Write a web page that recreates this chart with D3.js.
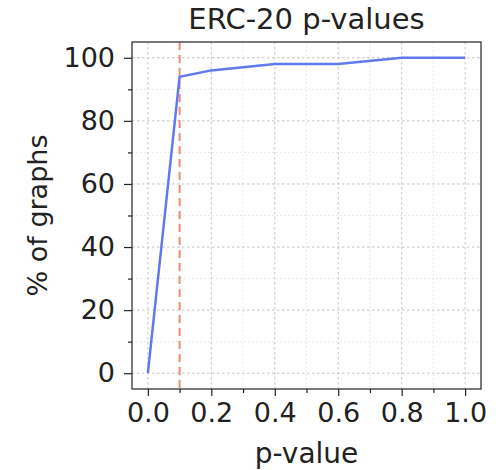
<!DOCTYPE html>
<html><head><meta charset="utf-8">
<script src="https://cdn.jsdelivr.net/npm/d3@7"></script>
<style>body{margin:0;background:#fff}svg{display:block}text{font-family:"DejaVu Sans",sans-serif;fill:#222}</style>
</head><body><svg id="c" width="504" height="470"></svg>
<script>
const pValues = [0.0, 0.1, 0.2, 0.4, 0.6, 0.8, 1.0];
const pctGraphs = [0, 94, 96, 98, 98, 100, 100];
const threshold = 0.1;
const xTicks = [0.0, 0.2, 0.4, 0.6, 0.8, 1.0];
const xMinor = [0.1, 0.3, 0.5, 0.7, 0.9];
const yTicks = [0, 20, 40, 60, 80, 100];
const yMinor = [10, 30, 50, 70, 90];
const title = "ERC-20 p-values";
const xLabel = "p-value";
const yLabel = "% of graphs";

const svg = d3.select("#c");
const L = 132, R = 481, T = 42, B = 389;
const x = d3.scaleLinear().domain([-0.05, 1.05]).range([L, R]);
const y = d3.scaleLinear().domain([-5, 105]).range([B, T]);

const g = svg.append("g");
// minor grid
g.selectAll(".mgx").data(xMinor).join("line")
  .attr("x1", d => x(d)).attr("x2", d => x(d)).attr("y1", T).attr("y2", B)
  .attr("stroke", "#e4e4e4").attr("stroke-width", 0.8).attr("stroke-dasharray", "2,2");
g.selectAll(".mgy").data(yMinor).join("line")
  .attr("y1", d => y(d)).attr("y2", d => y(d)).attr("x1", L).attr("x2", R)
  .attr("stroke", "#e4e4e4").attr("stroke-width", 0.8).attr("stroke-dasharray", "2,2");
// major grid
g.selectAll(".gx").data(xTicks).join("line")
  .attr("x1", d => x(d)).attr("x2", d => x(d)).attr("y1", T).attr("y2", B)
  .attr("stroke", "#c4c4c4").attr("stroke-width", 1).attr("stroke-dasharray", "2.5,2.5");
g.selectAll(".gy").data(yTicks).join("line")
  .attr("y1", d => y(d)).attr("y2", d => y(d)).attr("x1", L).attr("x2", R)
  .attr("stroke", "#c4c4c4").attr("stroke-width", 1).attr("stroke-dasharray", "2.5,2.5");

// threshold line
svg.append("line").attr("x1", x(threshold)).attr("x2", x(threshold)).attr("y1", T).attr("y2", B)
  .attr("stroke", "#ee8a78").attr("stroke-width", 2).attr("stroke-dasharray", "8,5");

// data line
svg.append("path").datum(pValues.map((p, i) => [p, pctGraphs[i]]))
  .attr("fill", "none").attr("stroke", "#6179ec").attr("stroke-width", 2.5)
  .attr("d", d3.line().x(d => x(d[0])).y(d => y(d[1])));

// frame
svg.append("rect").attr("x", L).attr("y", T).attr("width", R - L).attr("height", B - T)
  .attr("fill", "none").attr("stroke", "#222").attr("stroke-width", 1.2);

// axes
const xa = svg.append("g").attr("transform", `translate(0,${B})`)
  .call(d3.axisBottom(x).tickValues(xTicks).tickFormat(d3.format(".1f")).tickSize(7).tickPadding(7));
const xm = svg.append("g").attr("transform", `translate(0,${B})`)
  .call(d3.axisBottom(x).tickValues(xMinor).tickFormat("").tickSize(4));
const ya = svg.append("g").attr("transform", `translate(${L},0)`)
  .call(d3.axisLeft(y).tickValues(yTicks).tickFormat(d3.format("d")).tickSize(8).tickPadding(9));
const ym = svg.append("g").attr("transform", `translate(${L},0)`)
  .call(d3.axisLeft(y).tickValues(yMinor).tickFormat("").tickSize(4));
[xa, xm, ya, ym].forEach(a => {
  a.select(".domain").remove();
  a.selectAll("line").attr("stroke", "#222").attr("stroke-width", 1.2);
  a.selectAll("text").attr("font-size", 27).attr("font-family", "DejaVu Sans").attr("fill", "#222");
});

svg.append("text").attr("x", (L + R) / 2).attr("y", 29).attr("text-anchor", "middle")
  .attr("font-size", 29).text(title);
svg.append("text").attr("x", (L + R) / 2).attr("y", 463).attr("text-anchor", "middle")
  .attr("font-size", 28).text(xLabel);
svg.append("text").attr("transform", `translate(47,${(T + B) / 2}) rotate(-90)`).attr("text-anchor", "middle")
  .attr("font-size", 27).text(yLabel);
</script></body></html>
